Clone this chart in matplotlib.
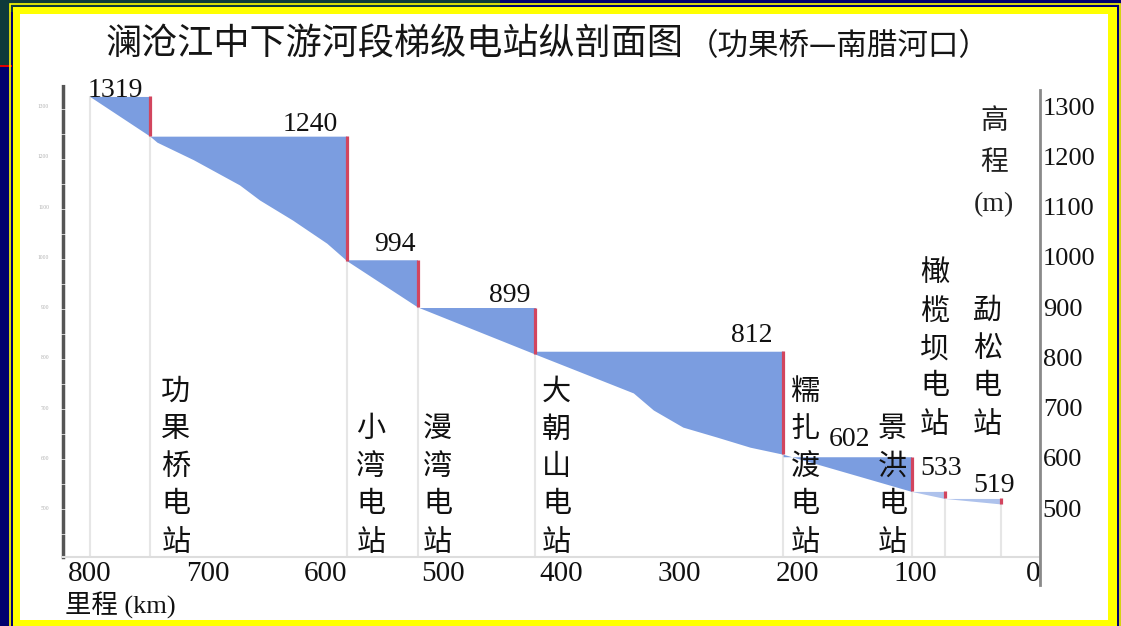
import numpy as np
import matplotlib.pyplot as plt
from matplotlib.patches import Rectangle

plt.rcParams['font.family'] = ['Liberation Serif', 'Noto Sans CJK SC']

# 电站、坝址里程 (km)、正常蓄水位 (m)
stations = ['功果桥电站', '小湾电站', '漫湾电站', '大朝山电站',
            '糯扎渡电站', '景洪电站', '橄榄坝电站', '勐松电站']
dam_km = [749, 582, 522, 422, 212, 103, 75, 27]
levels = [1319, 1240, 994, 899, 812, 602, 533, 519]
tail_km = 800  # 功果桥库尾

# 天然河床纵剖面
bed_km = [800, 749, 743, 712, 673, 656, 628, 599, 582, 522, 422, 395, 367,
          339, 322, 297, 268, 240, 212, 103, 75, 27]
bed_elev = [1319, 1240, 1228, 1193, 1143, 1113, 1073, 1027, 992, 900, 806,
            781, 755, 729, 695, 661, 641, 621, 607, 533, 519, 508]

x_ticks = [800, 700, 600, 500, 400, 300, 200, 100, 0]
y_ticks = [500, 600, 700, 800, 900, 1000, 1100, 1200, 1300]

# 标注偏移 (像素)
value_off = [(-7, -7), (-9, -1), (-2, 3), (-5, 0), (-11, 3), (-41, 5), (17, 10), (14, 0)]
name_off = [(26, 0), (24, 0), (20, 0), (21, 0), (22, 0), (-19, 0), (-10, 118), (-14, 118)]

W, H = 1121, 626
fig = plt.figure(figsize=(W / 100, H / 100), dpi=100, facecolor='#00006e')


def frame_rect(x, y, w, h, **kw):
    fig.patches.append(Rectangle((x / W, 1 - (y + h) / H), w / W, h / H,
                                 transform=fig.transFigure, zorder=-10, **kw))


# 幻灯片边框
frame_rect(0, 0, 500, 12, facecolor='#0e3a3a', edgecolor='none')
frame_rect(0, 0, 9, 66, facecolor='#0e3a3a', edgecolor='none')
frame_rect(0, 65, 12, 2, facecolor='#e00000', edgecolor='none')
frame_rect(9.5, 3.5, 1110, 630, facecolor='none', edgecolor='#ffff00', lw=1.2)
frame_rect(13, 7, 1104, 625, facecolor='#ffff00', edgecolor='none')
frame_rect(20, 14, 1088, 606, facecolor='white', edgecolor='none')

ax = fig.add_axes([63 / W, (H - 557) / H, 977 / W, 472 / H])
ax.set_facecolor('none')
ax.set_xlim(822.7, -5.9)
ax.set_ylim(402.5, 1341.8)

kk = np.array(bed_km, dtype=float)
bb = np.array(bed_elev, dtype=float)
bed_at_dam = np.interp(dam_km, kk[::-1], bb[::-1])

# 库尾及坝址处淡灰竖线
ax.vlines([tail_km] + dam_km, 402.5, [levels[0]] + list(bed_at_dam),
          color='#e6e6e6', lw=1.5, zorder=1)

for i, (dk, lv) in enumerate(zip(dam_km, levels)):
    up = tail_km if i == 0 else dam_km[i - 1]
    m = (kk <= up) & (kk >= dk)
    col = '#7b9de0' if i < 6 else '#aec2ec'
    ax.fill_between(kk[m], bb[m], lv, color=col, lw=0, zorder=2)
    ax.vlines(dk, bed_at_dam[i], lv, color='#d2455e', lw=2.3, zorder=3)
    ax.annotate(str(lv), xy=(dk, lv), xytext=value_off[i], textcoords='offset pixels',
                ha='right', va='bottom', fontsize=20, color='#111111', zorder=4)
    ax.annotate('\n'.join(stations[i]), xy=(dk, 0), xycoords=('data', 'axes fraction'),
                xytext=name_off[i], textcoords='offset pixels', ha='center', va='bottom',
                fontsize=21, linespacing=1.55, color='#111111',
                annotation_clip=False, zorder=4)

ax.set_xticks(x_ticks)
ax.set_xticklabels([str(v) for v in x_ticks], fontsize=21, color='#111111')
ax.tick_params(axis='x', length=0, pad=3)
ax.set_yticks(y_ticks)
ax.set_yticklabels([str(v) for v in y_ticks], fontsize=4, color='#b0b0b0')
ax.tick_params(axis='y', length=0, pad=10)

for s in ['top', 'right']:
    ax.spines[s].set_visible(False)
ax.spines['bottom'].set_color('#dddddd')
ax.spines['bottom'].set_linewidth(1.5)
ax.spines['left'].set_color('#555555')
ax.spines['left'].set_linewidth(2.5)
ax.spines['left'].set_linestyle((0, (6, 1.2)))

ax2 = ax.twinx()
ax2.set_ylim(ax.get_ylim())
ax2.set_yticks(y_ticks)
ax2.set_yticklabels([str(v) for v in y_ticks], fontsize=19, color='#111111')
ax2.tick_params(axis='y', length=0, pad=2)
for s in ['top', 'left', 'bottom']:
    ax2.spines[s].set_visible(False)
ax2.spines['right'].set_color('#8a8a8a')
ax2.spines['right'].set_linewidth(2)
ax2.spines['right'].set_bounds(347, 1332)

# 标题与坐标轴名称
fig.text(105 / W, 1 - 45 / H, '澜沧江中下游河段梯级电站纵剖面图', fontsize=26,
         ha='left', va='center', color='#151515')
fig.text(688 / W, 1 - 47 / H, '（功果桥—南腊河口）', fontsize=22,
         family=['Noto Sans CJK SC'], ha='left', va='center', color='#151515')
fig.text(65 / W, 1 - 605 / H, '里程 (km)', fontsize=19, ha='left', va='center',
         color='#111111')
fig.text(994 / W, 1 - 109 / H, '高\n程\n(m)', fontsize=20, ha='center', va='top',
         linespacing=1.85, color='#222222')

fig.savefig('out.png', dpi=100, facecolor=fig.get_facecolor())
